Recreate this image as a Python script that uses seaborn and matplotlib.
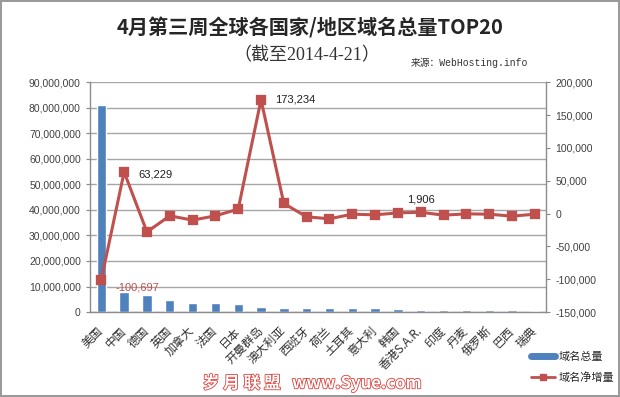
import numpy as np
import matplotlib
matplotlib.use("Agg")
import matplotlib.pyplot as plt
import matplotlib.patheffects as pe
from matplotlib.ticker import FuncFormatter
import seaborn as sns

# data
countries = ["美国", "中国", "德国", "英国", "加拿大", "法国", "日本", "开曼群岛",
             "澳大利亚", "西班牙", "荷兰", "土耳其", "意大利", "韩国", "香港S.A.R.",
             "印度", "丹麦", "俄罗斯", "巴西", "瑞典"]
total = [81000000, 7900000, 6650000, 4700000, 3600000, 3400000, 3000000, 2100000,
         1700000, 1700000, 1400000, 1400000, 1400000, 1000000, 800000,
         800000, 700000, 700000, 700000, 400000]
growth = [-100697, 63229, -28000, -3500, -10000, -3500, 6700, 173234,
          15300, -5000, -8000, -1000, -2000, 1000, 1906,
          -2500, -500, -1000, -4000, -1000]
labelled = {0: "-100,697", 1: "63,229", 7: "173,234", 14: "1,906"}

BLUE = "#4F81BD"
RED = "#C0504D"
GRID = "#A6A6A6"
CJK = ['Noto Sans CJK SC', 'DejaVu Sans']

sns.set_style("white")
plt.rcParams['font.family'] = ['Liberation Sans', 'Noto Sans CJK SC', 'DejaVu Sans']

fig = plt.figure(figsize=(6.2, 3.97), dpi=100)
fig.patch.set_edgecolor("#9a9a9a")
fig.patch.set_linewidth(1.5)
ax = fig.add_axes([0.145, 0.214, 0.736, 0.579])

sns.barplot(x=countries, y=total, ax=ax, color=BLUE, width=0.41, saturation=1)
ax.set_ylim(0, 90000000)
ax.set_yticks(np.arange(0, 90000001, 10000000))
ax.yaxis.set_major_formatter(FuncFormatter(lambda v, p: f"{int(v):,}"))
ax.grid(axis="y", color=GRID, linewidth=1)
ax.set_axisbelow(True)

ax2 = ax.twinx()
sns.pointplot(x=countries, y=growth, ax=ax2, color=RED, markers="s",
              errorbar=None, markersize=6, linewidth=2.2)
ax2.set_ylim(-150000, 200000)
ax2.set_yticks(np.arange(-150000, 200001, 50000))
ax2.yaxis.set_major_formatter(FuncFormatter(lambda v, p: f"{int(v):,}"))
ax2.set_xlim(-0.5, len(countries) - 0.5)

for a in (ax, ax2):
    for s in a.spines.values():
        s.set_visible(False)
    a.tick_params(axis="y", labelsize=7.5, colors="#404040", length=3, color="#888")
    a.set_xlabel("")
    a.set_ylabel("")
ax.spines["left"].set_visible(True)
ax.spines["bottom"].set_visible(True)
ax2.spines["right"].set_visible(True)
for s in (ax.spines["left"], ax.spines["bottom"], ax2.spines["right"]):
    s.set_color("#8c8c8c")
    s.set_linewidth(1)

ax.set_xticks(range(len(countries)))
ax.set_xticklabels(countries, rotation=45, ha="right", va="center",
                   rotation_mode="anchor", fontsize=8.5, family=CJK)
ax.tick_params(axis="x", length=0, pad=12, colors="#303030")

# data labels on the line
offsets = {0: (10, -6), 1: (10, -2), 7: (10, 0), 14: (0, 9)}
for i, txt in labelled.items():
    dx, dy = offsets[i]
    ax2.annotate(txt, (i, growth[i]), xytext=(dx, dy), textcoords="offset points",
                 ha="left" if dx else "center", va="center",
                 fontsize=8, color=RED if growth[i] < 0 else "#202020")

# titles
fig.text(0.5, 0.93, "4月第三周全球各国家/地区域名总量TOP20", ha="center", va="center",
         fontsize=14.5, fontweight="bold", family=CJK)
fig.text(0.495, 0.861, "（截至2014-4-21）", ha="center", va="center", fontsize=13,
         family=['Liberation Serif', 'Noto Sans CJK SC'], color="#333333")
fig.text(0.757, 0.841, "来源：WebHosting.info", ha="center", va="center", fontsize=7,
         family=['Liberation Mono', 'Noto Sans CJK SC'], color="#333333")

# legend
bar_h = plt.Line2D([], [], color=BLUE, linewidth=5)
line_h = plt.Line2D([], [], color=RED, linewidth=2, marker="s", markersize=5)
fig.legend([bar_h, line_h], ["域名总量", "域名净增量"], loc="center left",
           bbox_to_anchor=(0.84, 0.075), frameon=False,
           handlelength=2.2, handletextpad=0.3, labelspacing=0.9,
           prop={'family': CJK, 'size': 8})

# watermark
fig.text(0.503, 0.035, "岁 月 联 盟   www.Syue.com", ha="center", va="center",
         fontsize=12, fontweight="bold", color="white", family=CJK,
         path_effects=[pe.withStroke(linewidth=1.2, foreground="#e0403a")])

fig.savefig("out.png", dpi=100)
